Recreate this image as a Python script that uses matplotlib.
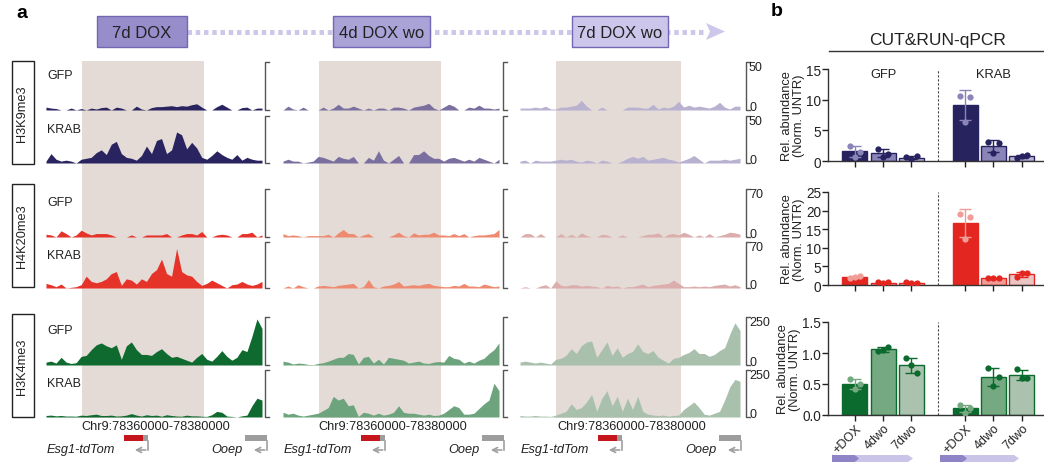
import numpy as np
import matplotlib.pyplot as plt
from matplotlib.patches import Rectangle, Polygon

plt.rcParams['font.family'] = ['Liberation Sans', 'DejaVu Sans']

# ---------------- data: coverage tracks (44 bins across the locus) ----------------
h3k9_gfp_7d = [3, 2, 1.5, 0, 0, 2, 0, 1.5, 0, 2, 1,
               2.5, 3, 0, 3, 2, 0, 0, 4, 1, 0, 2.5,
               3.5, 3.5, 4, 4.5, 3.5, 4.5, 4, 5.5, 6.5, 3, 0,
               0, 3.5, 6, 3, 0, 0, 2.5, 3, 0, 2, 2]
h3k9_krab_7d = [2, 10, 4, 2, 3, 2, 0, 4, 5, 6, 11,
                14, 9, 20, 23, 10, 6, 5, 3, 8, 18, 10,
                24, 26, 10, 14, 33, 30, 15, 22, 16, 6, 4,
                8, 13, 9, 6, 4, 9, 3, 6, 4, 3, 3]
h3k9_gfp_4dwo = [0, 4, 1, 0, 3, 0, 0, 0, 3, 0, 2,
                 6, 2, 2, 4, 2, 0, 2, 0, 2, 2, 0,
                 3, 3, 2, 0, 3, 4, 5, 7, 2, 0, 3,
                 6, 4, 0, 0, 3, 2, 5, 2, 2, 1, 2]
h3k9_krab_4dwo = [2, 4, 2, 2, 0, 1, 2, 7, 6, 4, 2,
                  7, 5, 4, 7, 0, 0, 6, 3, 13, 3, 0,
                  4, 8, 0, 0, 9, 9, 13, 8, 5, 5, 2,
                  5, 6, 4, 2, 4, 2, 6, 4, 2, 0, 4]
h3k9_gfp_7dwo = [2, 2, 2, 3, 2, 4, 1, 1, 3, 3, 4,
                 5, 10, 4, 0, 0, 3, 0, 0, 0, 0, 3,
                 3, 3, 2, 2, 6, 1, 3, 2, 4, 9, 3,
                 5, 3, 4, 3, 2, 4, 8, 3, 1, 4, 4]
h3k9_krab_7dwo = [2, 3, 0, 3, 2, 2, 2, 3, 4, 3, 4,
                  2, 1, 3, 2, 0, 3, 2, 0, 0, 2, 5,
                  7, 5, 7, 3, 4, 5, 6, 4, 3, 1, 3,
                  5, 8, 4, 0, 3, 3, 3, 4, 3, 4, 5]

h4k20_gfp_7d = [4, 3, 0, 9, 5, 0, 3, 10, 6, 3, 5,
                5, 5, 3, 0, 0, 0, 3, 0, 0, 3, 3,
                3, 3, 5, 0, 0, 3, 5, 5, 3, 8, 0,
                0, 3, 4, 3, 0, 0, 5, 5, 7, 0, 3]
h4k20_krab_7d = [7, 5, 2, 6, 0, 1, 2, 5, 18, 10, 8,
                 10, 14, 22, 25, 4, 14, 12, 6, 14, 10, 22,
                 28, 44, 22, 18, 60, 25, 20, 18, 10, 4, 7,
                 12, 8, 4, 0, 5, 6, 10, 6, 4, 6, 10]
h4k20_gfp_4dwo = [5, 2, 3, 2, 0, 2, 2, 2, 2, 4, 0,
                  6, 11, 5, 5, 0, 3, 5, 0, 0, 0, 0,
                  3, 7, 2, 0, 6, 3, 4, 4, 7, 3, 3,
                  2, 5, 2, 5, 0, 2, 3, 3, 4, 5, 11]
h4k20_krab_4dwo = [0, 3, 0, 5, 2, 0, 0, 3, 4, 3, 2,
                   4, 5, 6, 7, 0, 2, 13, 2, 0, 3, 4,
                   6, 10, 3, 4, 5, 4, 6, 7, 4, 3, 2,
                   2, 4, 3, 7, 3, 3, 2, 6, 4, 2, 3]
h4k20_gfp_7dwo = [0, 5, 5, 0, 5, 0, 0, 0, 5, 0, 4,
                  0, 6, 2, 0, 0, 4, 3, 0, 0, 3, 0,
                  0, 0, 2, 4, 4, 6, 0, 4, 5, 3, 7,
                  4, 0, 3, 0, 5, 0, 2, 4, 7, 6, 4]
h4k20_krab_7dwo = [0, 2, 0, 0, 3, 5, 0, 11, 4, 3, 5,
                   5, 3, 4, 3, 2, 0, 4, 2, 3, 0, 2,
                   2, 4, 6, 2, 4, 5, 6, 7, 12, 7, 2,
                   2, 3, 2, 3, 2, 4, 5, 6, 3, 5, 2]

h3k4_gfp_7d = [15, 20, 10, 40, 15, 8, 12, 45, 50, 80, 105,
               115, 100, 90, 105, 30, 100, 120, 80, 55, 55, 50,
               70, 85, 60, 40, 45, 35, 25, 15, 40, 60, 30,
               20, 45, 75, 45, 25, 40, 80, 70, 150, 240, 190]
h3k4_krab_7d = [8, 10, 6, 8, 5, 5, 4, 10, 8, 12, 15,
                8, 8, 10, 5, 6, 10, 18, 10, 5, 12, 8,
                10, 4, 12, 8, 5, 4, 10, 6, 6, 4, 3,
                12, 30, 25, 5, 3, 0, 6, 10, 60, 100, 90]
h3k4_gfp_4dwo = [20, 15, 5, 10, 8, 3, 2, 8, 12, 20, 30,
                 40, 40, 60, 55, 5, 40, 45, 10, 30, 5, 40,
                 35, 30, 25, 10, 15, 20, 10, 8, 15, 18, 15,
                 50, 35, 30, 10, 20, 10, 25, 35, 60, 80, 115]
h3k4_krab_4dwo = [25, 15, 20, 10, 5, 10, 15, 20, 35, 50, 110,
                  90, 100, 60, 65, 3, 25, 20, 10, 20, 10, 15,
                  25, 60, 25, 20, 20, 15, 10, 15, 8, 10, 20,
                  40, 60, 50, 15, 15, 20, 45, 70, 90, 180, 140]
h3k4_gfp_7dwo = [15, 20, 15, 10, 15, 10, 5, 30, 35, 50, 85,
                 60, 100, 120, 125, 40, 80, 120, 50, 90, 40, 60,
                 70, 110, 70, 60, 75, 40, 25, 10, 35, 40, 55,
                 65, 85, 60, 60, 45, 55, 75, 90, 160, 220, 180]
h3k4_krab_7dwo = [8, 5, 5, 8, 5, 5, 3, 10, 20, 30, 70,
                  40, 50, 80, 120, 30, 100, 140, 60, 110, 30, 100,
                  40, 110, 30, 15, 10, 8, 10, 5, 8, 10, 40,
                  60, 80, 50, 15, 10, 20, 30, 90, 160, 200, 190]

track_rows = [
    ('GFP', 50, [h3k9_gfp_7d, h3k9_gfp_4dwo, h3k9_gfp_7dwo]),
    ('KRAB', 50, [h3k9_krab_7d, h3k9_krab_4dwo, h3k9_krab_7dwo]),
    ('GFP', 70, [h4k20_gfp_7d, h4k20_gfp_4dwo, h4k20_gfp_7dwo]),
    ('KRAB', 70, [h4k20_krab_7d, h4k20_krab_4dwo, h4k20_krab_7dwo]),
    ('GFP', 250, [h3k4_gfp_7d, h3k4_gfp_4dwo, h3k4_gfp_7dwo]),
    ('KRAB', 250, [h3k4_krab_7d, h3k4_krab_4dwo, h3k4_krab_7dwo]),
]
marks = ['H3K9me3', 'H4K20me3', 'H3K4me3']
timepoints = ['7d DOX', '4d DOX wo', '7d DOX wo']
locus = 'Chr9:78360000-78380000'
region_start, region_end = 7.1, 31.4   # shaded region, in bins

# ---------------- data: CUT&RUN-qPCR replicates ----------------
conds = ['+DOX', '4dwo', '7dwo']
k9_gfp = [[2.5, 1.5, 0.7], [2.0, 1.2, 0.7], [0.6, 0.75, 0.3]]
k9_krab = [[10.6, 10.5, 6.3], [3.1, 2.9, 1.3], [0.55, 1.0, 0.75]]
k20_gfp = [[1.9, 2.3, 2.2], [0.7, 0.8, 0.45], [0.9, 0.55, 0.5]]
k20_krab = [[19.2, 18.3, 12.5], [1.9, 1.8, 1.75], [2.15, 3.3, 3.1]]
k4_gfp = [[0.58, 0.5, 0.42], [1.03, 1.1, 1.05], [0.92, 0.68, 0.80]]
k4_krab = [[0.16, 0.12, 0.04], [0.76, 0.61, 0.46], [0.74, 0.6, 0.6]]

# ---------------- colours ----------------
track_cols = [['#29245f', '#7a6f9f', '#b8b1d0'],
              ['#e6332a', '#ee8a6f', '#dcadad'],
              ['#0f6a2f', '#6da47d', '#a8c0ac']]
bar_cols = [['#27235f', '#8a84b8', '#b9b4d6'],
            ['#e3261f', '#f19c96', '#e9c6c4'],
            ['#0b6a2d', '#74a981', '#abc3ae']]
shade = '#e4dbd7'

W, H = 1044, 464
fig = plt.figure(figsize=(W / 100, H / 100), dpi=100)


def px_axes(x0, y0, x1, y1):
    return fig.add_axes([x0 / W, 1 - y1 / H, (x1 - x0) / W, (y1 - y0) / H])


ov = px_axes(0, 0, W, H)
ov.set_xlim(0, W)
ov.set_ylim(H, 0)
ov.axis('off')

# ---------------- panel a ----------------
col_x = [(46, 262), (283, 499), (520, 740)]
bracket_x = [265, 503, 746]
rows_y = [(63, 111), (117, 164), (190, 238), (243, 289), (318, 366), (371, 418)]
nb = len(h3k9_gfp_7d)
xb = np.arange(nb)

for ci, (x0, x1) in enumerate(col_x):
    bg = px_axes(x0, 62, x1, 419)
    bg.set_xlim(0, nb - 1)
    bg.axvspan(region_start, region_end, color=shade, lw=0)
    bg.axis('off')

for ri, (lab, top_val, series) in enumerate(track_rows):
    top, base = rows_y[ri]
    for ci, (x0, x1) in enumerate(col_x):
        ax = px_axes(x0, top, x1, base)
        c = track_cols[ri // 2][ci]
        ax.fill_between(xb, series[ci], color=c, lw=0)
        ax.axhline(0, color=c, lw=0.8, alpha=0.25)
        ax.set_xlim(0, nb - 1)
        ax.set_ylim(0, top_val)
        ax.axis('off')
        bx = bracket_x[ci]
        ov.plot([bx + 4, bx, bx, bx + 4], [top, top, base, base], color='#555555', lw=1)
        if ci == 2:
            ov.text(bx + 3, top + 5, str(top_val), fontsize=9, va='center', ha='left', color='#222')
            ov.text(bx + 3, base - 3, '0', fontsize=9, va='center', ha='left', color='#222')
    ov.text(47, top + 13, lab, fontsize=9, va='center', ha='left', color='#222')

# mark label boxes
for (y0, y1), m in zip([(62, 165), (185, 288), (315, 418)], marks):
    ov.add_patch(Rectangle((11.5, y0), 22, y1 - y0, fill=False, ec='#222', lw=1))
    ov.text(22.5, (y0 + y1) / 2, m, rotation=90, fontsize=9.2, ha='center', va='center', color='#222')

# timeline
ov.plot([187, 706], [32.5, 32.5], color='#cdc8ea', lw=3.6, ls=(0, (0.9, 0.75)), solid_capstyle='butt')
ov.add_patch(Polygon([(706, 24), (725, 32.5), (706, 41), (710, 32.5)], closed=True, color='#cdc8ea', lw=0))
for (bx0, bx1), t, fc in zip([(97, 187), (333, 430), (572, 668)], timepoints,
                             ['#988dcb', '#a9a3d7', '#cbc6ea']):
    ov.add_patch(Rectangle((bx0, 17), bx1 - bx0, 31, fc=fc, ec='#7366b3', lw=1, zorder=3))
    ov.text((bx0 + bx1) / 2, 33, t, fontsize=12, ha='center', va='center', color='#222', zorder=4)

# locus and genes
for ci, (x0, x1) in enumerate(col_x):
    ov.text((x0 + x1) / 2 + 2, 427, locus, fontsize=9.2, ha='center', va='center', color='#222')
    ov.text(x0 + 1, 450, 'Esg1-tdTom', fontsize=9.2, style='italic', ha='left', va='center', color='#222')
    ov.add_patch(Rectangle((x0 + 78, 436), 19, 6, color='#c4161c', lw=0))
    ov.add_patch(Rectangle((x0 + 97, 436), 5, 6, color='#9d9d9d', lw=0))
    ov.plot([x0 + 102, x0 + 102], [442, 451], color='#a0a0a0', lw=1.2)
    ov.annotate('', xy=(x0 + 86, 451), xytext=(x0 + 102.5, 451),
                arrowprops=dict(arrowstyle='->', color='#a0a0a0', lw=1.2, mutation_scale=9))
    ov.text(x0 + 197, 450, 'Ooep', fontsize=9.2, style='italic', ha='right', va='center', color='#222')
    ov.add_patch(Rectangle((x0 + 199, 436), 22, 6, color='#9d9d9d', lw=0))
    ov.plot([x0 + 221, x0 + 221], [442, 451], color='#a0a0a0', lw=1.2)
    ov.annotate('', xy=(x0 + 205, 451), xytext=(x0 + 221.5, 451),
                arrowprops=dict(arrowstyle='->', color='#a0a0a0', lw=1.2, mutation_scale=9))

ov.text(16, 13, 'a', fontsize=14, fontweight='bold', ha='left', va='center')
ov.text(771, 12, 'b', fontsize=14, fontweight='bold', ha='left', va='center')

# ---------------- panel b ----------------
ov.text(938, 40, 'CUT&RUN-qPCR', fontsize=12.5, ha='center', va='center', color='#222')
ov.plot([829, 1044], [52, 52], color='#333', lw=1)

bar_x = [0, 1, 2, 3.9, 4.9, 5.9]
spread = [-0.18, 0.18, 0.0]
panels = [((70, 162), 15, [0, 5, 10, 15], k9_gfp, k9_krab, bar_cols[0], ['0', '5', '10', '15']),
          ((193, 286), 25, [0, 5, 10, 15, 20, 25], k20_gfp, k20_krab, bar_cols[1],
           ['0', '5', '10', '15', '20', '25']),
          ((323, 416), 1.5, [0, 0.5, 1.0, 1.5], k4_gfp, k4_krab, bar_cols[2], ['0.0', '0.5', '1.0', '1.5'])]

for pi, ((y0, y1), ymax, yt, gfp, krab, cols, ytl) in enumerate(panels):
    ax = px_axes(828, y0, 1043, y1)
    reps = gfp + krab
    for i, (xp, r) in enumerate(zip(bar_x, reps)):
        r = np.array(r)
        m, sd = r.mean(), r.std(ddof=1)
        k = i % 3
        fc = cols[k]
        dark = cols[0]
        pc = cols[1] if k == 0 else dark
        ax.bar(xp, m, width=0.88, color=fc, edgecolor=dark, lw=1, zorder=2)
        ax.errorbar(xp, m, yerr=sd, color=pc, capsize=4.5, lw=1, capthick=1, zorder=3)
        ax.plot(xp + np.array(spread), r, 'o', ms=4.5, color=pc, mec='none', zorder=4)
    ax.axvline(2.95, color='#444', lw=0.8, ls=(0, (2, 1.6)))
    ax.set_xlim(-0.95, 6.65)
    ax.set_ylim(0, ymax)
    ax.set_yticks(yt)
    ax.set_yticklabels(ytl)
    ax.set_xticks(bar_x)
    for s in ['top', 'right']:
        ax.spines[s].set_visible(False)
    for s in ['left', 'bottom']:
        ax.spines[s].set_color('#333')
        ax.spines[s].set_linewidth(1)
    ax.tick_params(labelsize=9.8, length=4, width=1, pad=1, colors='#222')
    ax.set_ylabel('Rel. abundance\n(Norm. UNTR)', fontsize=9.3, labelpad=1, linespacing=1.0, color='#222')
    if pi == 2:
        ax.set_xticklabels(conds * 2, rotation=45, ha='right', rotation_mode='anchor', fontsize=9)
    else:
        ax.set_xticklabels([])
    if pi == 0:
        ax.text(1, 14.2, 'GFP', fontsize=9.3, ha='center', va='center', color='#222')
        ax.text(4.9, 14.2, 'KRAB', fontsize=9.3, ha='center', va='center', color='#222')
    ax.patch.set_alpha(0)

# treatment arrows under panel b
for ax0, ax1, mid in [(832, 913, 859), (940, 1019, 967)]:
    ov.add_patch(Polygon([(mid - 3, 456), (ax1 - 5, 456), (ax1, 459.5), (ax1 - 5, 463), (mid - 3, 463)],
                         closed=True, color='#c9c4e8', lw=0))
    ov.add_patch(Polygon([(ax0, 456), (mid - 4, 456), (mid, 459.5), (mid - 4, 463), (ax0, 463)],
                         closed=True, color='#8e84c6', lw=0))

fig.savefig('out.png', dpi=100)
